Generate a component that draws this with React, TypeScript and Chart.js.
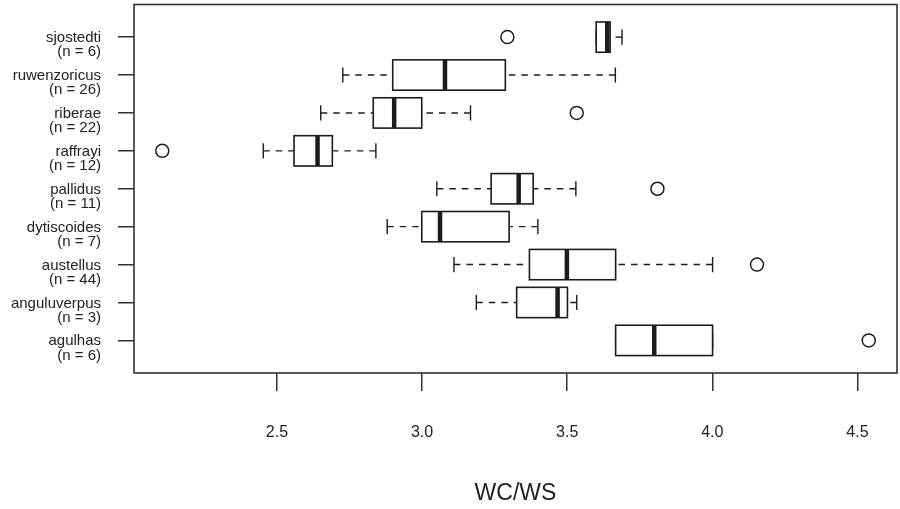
import React, { useEffect, useRef } from 'react';
import { Chart, registerables } from 'chart.js';

Chart.register(...registerables);

// ---- data (bottom to top) ----
const groups = ['agulhas', 'anguluverpus', 'austellus', 'dytiscoides', 'pallidus', 'raffrayi', 'riberae', 'ruwenzoricus', 'sjostedti'];
const counts = [6, 3, 44, 7, 11, 12, 22, 26, 6];
const whiskerLow = [3.667, 3.187, 3.110, 2.880, 3.051, 2.453, 2.651, 2.727, 3.600];
const q1 = [3.667, 3.326, 3.370, 2.999, 3.238, 2.559, 2.832, 2.899, 3.600];
const median = [3.800, 3.467, 3.499, 3.062, 3.333, 2.640, 2.904, 3.079, 3.638];
const q3 = [4.001, 3.501, 3.667, 3.300, 3.383, 2.691, 2.999, 3.287, 3.648];
const whiskerHigh = [4.001, 3.533, 4.001, 3.399, 3.530, 2.841, 3.167, 3.666, 3.689];
const outlierGroup = ['agulhas', 'austellus', 'pallidus', 'raffrayi', 'riberae', 'sjostedti'];
const outlierValue = [4.539, 4.154, 3.811, 2.105, 3.533, 3.294];
const xTicks = [2.5, 3.0, 3.5, 4.0, 4.5];
const xTitle = 'WC/WS';

const FONT = "'Liberation Sans', Arial, Helvetica, sans-serif";
const INK = '#1c1c1c';
const TEXT = '#222222';

const allVals = [...whiskerLow, ...whiskerHigh, ...outlierValue];
const dMin = Math.min(...allVals);
const dMax = Math.max(...allVals);
const ext = (dMax - dMin) * 0.04;
const xMin = dMin - ext;
const xMax = dMax + ext;
const yMin = 0.5 - groups.length * 0.04;
const yMax = groups.length + 0.5 + groups.length * 0.04;

const boxPlugin = {
  id: 'boxPlugin',
  afterDatasetsDraw(chart: any) {
    const ctx = chart.ctx;
    const xs = chart.scales.x;
    const ys = chart.scales.y;
    ctx.save();
    groups.forEach((_, i) => {
      const pos = i + 1;
      const yc = ys.getPixelForValue(pos);
      const yt = ys.getPixelForValue(pos + 0.4);
      const yb = ys.getPixelForValue(pos - 0.4);
      const st = ys.getPixelForValue(pos + 0.2);
      const sb = ys.getPixelForValue(pos - 0.2);
      const pWL = xs.getPixelForValue(whiskerLow[i]);
      const pQ1 = xs.getPixelForValue(q1[i]);
      const pMed = xs.getPixelForValue(median[i]);
      const pQ3 = xs.getPixelForValue(q3[i]);
      const pWH = xs.getPixelForValue(whiskerHigh[i]);
      ctx.strokeStyle = INK;
      // whiskers (dashed, starting at whisker end)
      ctx.lineWidth = 1.4;
      ctx.setLineDash([6.5, 6]);
      ctx.beginPath();
      ctx.moveTo(pWL, yc);
      ctx.lineTo(pQ1, yc);
      ctx.moveTo(pWH, yc);
      ctx.lineTo(pQ3, yc);
      ctx.stroke();
      ctx.setLineDash([]);
      // staples
      ctx.beginPath();
      ctx.moveTo(pWL, st);
      ctx.lineTo(pWL, sb);
      ctx.moveTo(pWH, st);
      ctx.lineTo(pWH, sb);
      ctx.stroke();
      // box
      ctx.fillStyle = '#ffffff';
      ctx.fillRect(pQ1, yt, pQ3 - pQ1, yb - yt);
      ctx.lineWidth = 1.6;
      ctx.strokeRect(pQ1, yt, pQ3 - pQ1, yb - yt);
      // median
      ctx.lineWidth = 4.5;
      ctx.beginPath();
      ctx.moveTo(pMed, yt);
      ctx.lineTo(pMed, yb);
      ctx.stroke();
    });
    ctx.restore();
  },
  afterDraw(chart: any) {
    const { left, right, top, bottom } = chart.chartArea;
    const ctx = chart.ctx;
    ctx.save();
    ctx.strokeStyle = '#333333';
    ctx.lineWidth = 1.6;
    ctx.strokeRect(left, top, right - left, bottom - top);
    ctx.restore();
  },
};

export default function App() {
  const ref = useRef<HTMLCanvasElement | null>(null);

  useEffect(() => {
    if (!ref.current) return;
    Chart.defaults.font.family = FONT;
    const chart = new Chart(ref.current, {
      type: 'scatter',
      data: {
        datasets: [
          {
            data: outlierGroup.map((g, i) => ({ x: outlierValue[i], y: groups.indexOf(g) + 1 })),
            pointStyle: 'circle',
            pointRadius: 6.5,
            pointHoverRadius: 6.5,
            pointBackgroundColor: 'rgba(0,0,0,0)',
            pointBorderColor: INK,
            pointBorderWidth: 1.5,
            showLine: false,
          },
        ],
      },
      options: {
        animation: false,
        responsive: false,
        events: [],
        layout: { autoPadding: false, padding: { top: 4.5, right: 3, left: 0, bottom: 0 } },
        plugins: { legend: { display: false }, tooltip: { enabled: false } },
        scales: {
          x: {
            type: 'linear',
            position: 'bottom',
            min: xMin,
            max: xMax,
            afterBuildTicks: (s: any) => {
              s.ticks = xTicks.map((v) => ({ value: v }));
            },
            afterFit: (s: any) => {
              s.height = 136;
              s.paddingLeft = 0;
              s.paddingRight = 0;
            },
            ticks: {
              autoSkip: false,
              maxRotation: 0,
              padding: 32,
              color: TEXT,
              font: { size: 16, family: FONT },
              callback: (v: any) => Number(v).toFixed(1),
            },
            grid: { drawOnChartArea: false, drawTicks: true, tickLength: 18, color: '#333333', lineWidth: 1.5 },
            border: { display: false },
            title: {
              display: true,
              text: xTitle,
              color: TEXT,
              font: { size: 23, family: FONT },
              padding: { top: 0, bottom: 1.5 },
            },
          },
          y: {
            type: 'linear',
            position: 'left',
            min: yMin,
            max: yMax,
            afterBuildTicks: (s: any) => {
              s.ticks = groups.map((_, i) => ({ value: i + 1 }));
            },
            afterFit: (s: any) => {
              s.width = 134;
              s.paddingTop = 0;
              s.paddingBottom = 0;
            },
            ticks: {
              autoSkip: false,
              padding: 17,
              labelOffset: 8,
              color: TEXT,
              font: { size: 15, family: FONT, lineHeight: 0.95 },
              callback: (v: any) => {
                const i = Math.round(Number(v)) - 1;
                return [groups[i], `(n = ${counts[i]})`];
              },
            },
            grid: { drawOnChartArea: false, drawTicks: true, tickLength: 16, color: '#333333', lineWidth: 1.5 },
            border: { display: false },
          },
        },
      },
      plugins: [boxPlugin],
    });
    return () => chart.destroy();
  }, []);

  return (
    <div style={{ position: 'fixed', left: 0, top: 0, width: 900, height: 509, background: '#ffffff' }}>
      <canvas ref={ref} width={900} height={509} style={{ display: 'block', width: 900, height: 509 }} />
    </div>
  );
}
